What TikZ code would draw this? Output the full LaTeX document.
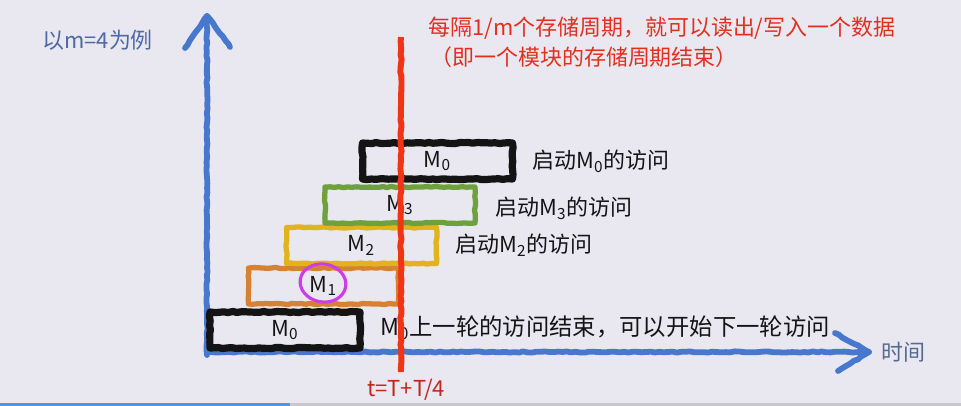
\documentclass[tikz,border=0pt]{standalone}
\usepackage{fontspec}
\setmainfont{Noto Sans CJK SC}
\usetikzlibrary{decorations.pathmorphing}
\definecolor{bg}{RGB}{233,231,240}
\definecolor{axisblue}{RGB}{72,120,205}
\definecolor{redline}{RGB}{240,52,22}
\definecolor{redtext}{RGB}{226,48,30}
\definecolor{tred}{RGB}{190,40,30}
\definecolor{greenbox}{RGB}{110,160,60}
\definecolor{yellowbox}{RGB}{225,180,30}
\definecolor{orangebox}{RGB}{215,130,50}
\definecolor{magentac}{RGB}{205,60,230}
\definecolor{inkblack}{RGB}{20,20,20}
\definecolor{notecol}{RGB}{78,105,165}
\definecolor{timecol}{RGB}{85,105,145}
\definecolor{bargrey}{RGB}{200,200,205}
\definecolor{barblue}{RGB}{80,150,230}
\begin{document}
\begin{tikzpicture}[x=0.02cm,y=-0.02cm,
  font=\fontsize{12.5}{15}\selectfont,
  crayon/.style={decorate,decoration={random steps,segment length=2.5pt,amplitude=0.35pt},line join=round,line cap=round},
  membox/.style={crayon,minimum width=150*0.02cm,minimum height=36*0.02cm,inner sep=0pt,text=inkblack},
  blackbox/.style={membox,draw=inkblack,line width=4.1pt},
  colbox/.style={membox,line width=3pt},
  sidelabel/.style={anchor=west,inner sep=0pt,text=inkblack},
  axisline/.style={crayon,draw=axisblue,line width=3.3pt},
]
\fill[bg] (0,0) rectangle (961,406);
\useasboundingbox (0,0) rectangle (961,406);

% progress bar
\fill[bargrey] (0,403) rectangle (961,406);
\fill[barblue] (0,403) rectangle (290,406);

% axes
\coordinate (origin) at (207,355);
\coordinate (ytop) at (207,16);
\coordinate (xend) at (869,352);
\coordinate (xstart) at (207,352);
\draw[axisline] (origin) -- (ytop);
\draw[axisline] (185,48) -- (ytop) -- (230,47);
\draw[axisline] (xstart) -- (xend);
\draw[axisline] (835,333) -- (xend) -- (838,371);

% texts
\node[anchor=west,inner sep=0pt,text=notecol] (note) at (42,40) {以m=4为例};
\node[anchor=west,inner sep=0pt,text=timecol] (time) at (881,352) {时间};
\node[anchor=west,inner sep=0pt,text=redtext] (red1) at (428,28) {每隔1/m个存储周期，就可以读出/写入一个数据};
\node[anchor=west,inner sep=0pt,text=redtext] (red2) at (430,57) {（即一个模块的存储周期结束）};

% boxes
\node[blackbox] (b0) at (285,330) {M\textsubscript{0}};
\node[colbox,draw=orangebox] (b1) at (323.5,286) {M\textsubscript{1}};
\node[colbox,draw=yellowbox] (b2) at (361.5,245.5) {M\textsubscript{2}};
\node[colbox,draw=greenbox] (b3) at (400,205) {M\textsubscript{3}};
\node[blackbox] (b4) at (437.5,161) {M\textsubscript{0}};

% magenta circle
\draw[magentac,line width=1.8pt,rotate around={-10:(323,283)}] (323,283) ellipse [x radius=23, y radius=19];

% side labels
\node[sidelabel] (l4) at (532,161) {启动M\textsubscript{0}的访问};
\node[sidelabel] (l3) at (495,208) {启动M\textsubscript{3}的访问};
\node[sidelabel] (l2) at (455,245) {启动M\textsubscript{2}的访问};
\node[sidelabel,font=\fontsize{13.3}{16}\selectfont] (l0) at (380,328) {M\textsubscript{0}上一轮的访问结束，可以开始下一轮访问};

% red line
\coordinate (rtop) at (401,37);
\coordinate (rbot) at (401,372);
\draw[crayon,redline,line width=3.4pt,line cap=butt] (rtop) -- (rbot);
\node[text=tred,inner sep=0pt] (tlabel) at (406,390) {t=T+T/4};
\end{tikzpicture}
\end{document}
